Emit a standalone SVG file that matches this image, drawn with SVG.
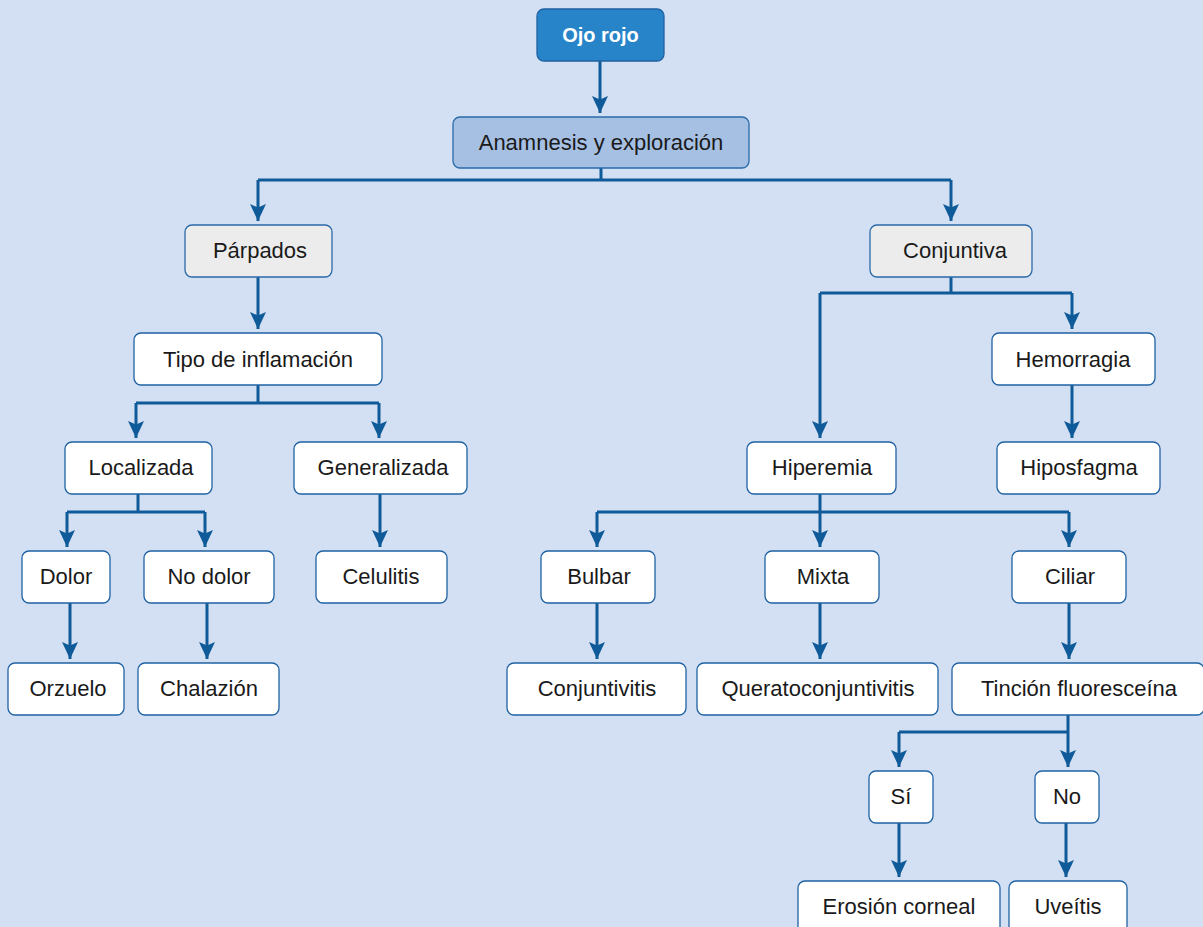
<svg xmlns="http://www.w3.org/2000/svg" width="1203" height="927" viewBox="0 0 1203 927">
<defs>
<style>
.bg{fill:#d3dff2}
.n rect{fill:#ffffff;stroke:#1f62a3;stroke-width:1.3}
.n text{font-family:"Liberation Sans",Arial,sans-serif;font-size:22px;fill:#1a1a1a;text-anchor:middle}
.g rect{fill:#ececec;stroke:#2a6aa8}
.a rect{fill:#a6c0e4;stroke:#2a6aa8}
.top rect{fill:#2884c8;stroke:#1f62a3}
.top text{fill:#ffffff;font-weight:bold;font-size:20px}
.c path{fill:none;stroke:#0f5a98;stroke-width:3}
</style>
<marker id="ah" markerUnits="userSpaceOnUse" viewBox="0 0 17 16" refX="17" refY="8" markerWidth="17" markerHeight="16" orient="auto">
<path d="M0,0 L17,8 L0,16 L3.5,8 z" fill="#0f5a98"/>
</marker>
</defs>
<rect class="bg" x="0" y="0" width="1203" height="927"/>
<g class="c">
<path d="M600,61 V113" marker-end="url(#ah)"/>
<path d="M601,168 V180 M258,180 H951"/>
<path d="M258,180 V221" marker-end="url(#ah)"/>
<path d="M951,180 V221" marker-end="url(#ah)"/>
<path d="M258,277 V329" marker-end="url(#ah)"/>
<path d="M258,385 V403 M136,403 H379"/>
<path d="M136,403 V438" marker-end="url(#ah)"/>
<path d="M379,403 V438" marker-end="url(#ah)"/>
<path d="M138,494 V512 M67,512 H205"/>
<path d="M67,512 V547" marker-end="url(#ah)"/>
<path d="M205,512 V547" marker-end="url(#ah)"/>
<path d="M380,494 V547" marker-end="url(#ah)"/>
<path d="M70,603 V659" marker-end="url(#ah)"/>
<path d="M207,603 V659" marker-end="url(#ah)"/>
<path d="M951,277 V293 M820,293 H1072"/>
<path d="M1072,293 V329" marker-end="url(#ah)"/>
<path d="M820,293 V438" marker-end="url(#ah)"/>
<path d="M1072,385 V438" marker-end="url(#ah)"/>
<path d="M820,494 V512 M597,512 H1069"/>
<path d="M597,512 V547" marker-end="url(#ah)"/>
<path d="M820,512 V547" marker-end="url(#ah)"/>
<path d="M1069,512 V547" marker-end="url(#ah)"/>
<path d="M597,603 V659" marker-end="url(#ah)"/>
<path d="M820,603 V659" marker-end="url(#ah)"/>
<path d="M1069,603 V659" marker-end="url(#ah)"/>
<path d="M1068,715 V732 M899,732 H1068"/>
<path d="M899,732 V767" marker-end="url(#ah)"/>
<path d="M1068,732 V767" marker-end="url(#ah)"/>
<path d="M899,823 V877" marker-end="url(#ah)"/>
<path d="M1066,823 V877" marker-end="url(#ah)"/>
</g>
<g id="ojo" class="n top"><rect x="537" y="9" width="127" height="52" rx="7"/><text x="600.5" y="42">Ojo rojo</text></g>
<g id="anamnesis" class="n a"><rect x="453" y="117" width="296" height="51" rx="7"/><text x="601" y="150">Anamnesis y exploración</text></g>
<g id="parpados" class="n g"><rect x="185" y="225" width="147" height="52" rx="7"/><text x="260" y="258">Párpados</text></g>
<g id="conjuntiva" class="n g"><rect x="870" y="225" width="162" height="52" rx="7"/><text x="955" y="258">Conjuntiva</text></g>
<g id="tipo" class="n"><rect x="134" y="333" width="248" height="52" rx="7"/><text x="258" y="367">Tipo de inflamación</text></g>
<g id="localizada" class="n"><rect x="65" y="442" width="147" height="52" rx="7"/><text x="141" y="475">Localizada</text></g>
<g id="generalizada" class="n"><rect x="294" y="442" width="173" height="52" rx="7"/><text x="383" y="475">Generalizada</text></g>
<g id="dolor" class="n"><rect x="22" y="551" width="88" height="52" rx="7"/><text x="66" y="584">Dolor</text></g>
<g id="nodolor" class="n"><rect x="144" y="551" width="130" height="52" rx="7"/><text x="209" y="584">No dolor</text></g>
<g id="celulitis" class="n"><rect x="316" y="551" width="131" height="52" rx="7"/><text x="381" y="584">Celulitis</text></g>
<g id="orzuelo" class="n"><rect x="8" y="663" width="116" height="52" rx="7"/><text x="68" y="696">Orzuelo</text></g>
<g id="chalazion" class="n"><rect x="138" y="663" width="141" height="52" rx="7"/><text x="209" y="696">Chalazión</text></g>
<g id="hemorragia" class="n"><rect x="992" y="333" width="163" height="52" rx="7"/><text x="1073" y="367">Hemorragia</text></g>
<g id="hiposfagma" class="n"><rect x="997" y="442" width="163" height="52" rx="7"/><text x="1079" y="475">Hiposfagma</text></g>
<g id="hiperemia" class="n"><rect x="747" y="442" width="149" height="52" rx="7"/><text x="822" y="475">Hiperemia</text></g>
<g id="bulbar" class="n"><rect x="541" y="551" width="114" height="52" rx="7"/><text x="599" y="584">Bulbar</text></g>
<g id="mixta" class="n"><rect x="765" y="551" width="114" height="52" rx="7"/><text x="823" y="584">Mixta</text></g>
<g id="ciliar" class="n"><rect x="1012" y="551" width="114" height="52" rx="7"/><text x="1070" y="584">Ciliar</text></g>
<g id="conjuntivitis" class="n"><rect x="507" y="663" width="179" height="52" rx="7"/><text x="597" y="696">Conjuntivitis</text></g>
<g id="queratoconjuntivitis" class="n"><rect x="697" y="663" width="241" height="52" rx="7"/><text x="818" y="696">Queratoconjuntivitis</text></g>
<g id="tincion" class="n"><rect x="952" y="663" width="252" height="52" rx="7"/><text x="1079" y="696">Tinción fluoresceína</text></g>
<g id="si" class="n"><rect x="869" y="771" width="64" height="52" rx="7"/><text x="901" y="804">Sí</text></g>
<g id="no" class="n"><rect x="1035" y="771" width="64" height="52" rx="7"/><text x="1067" y="804">No</text></g>
<g id="erosion" class="n"><rect x="798" y="881" width="202" height="60" rx="7"/><text x="899" y="914">Erosión corneal</text></g>
<g id="uveitis" class="n"><rect x="1009" y="881" width="118" height="60" rx="7"/><text x="1068" y="914">Uveítis</text></g>
</svg>
